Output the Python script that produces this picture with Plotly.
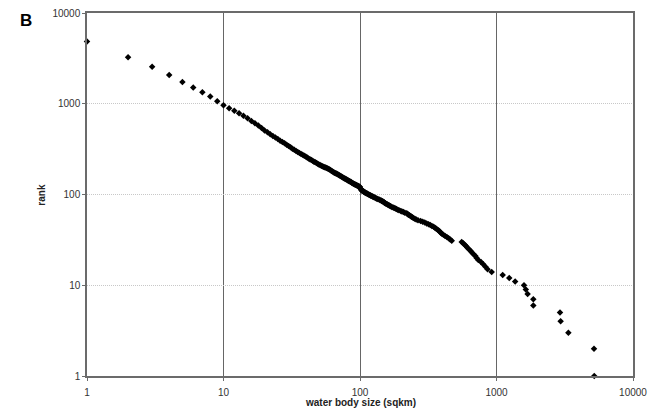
import plotly.graph_objects as go

# Rank-size data for water bodies: area in sqkm and rank (number of bodies at least that size)
small_sizes = [1, 2, 3, 4, 5, 6, 7, 8, 9]
small_ranks = [4850, 3250, 2550, 2070, 1740, 1515, 1340, 1200, 1065]

mid_sizes = list(range(10, 101))
mid_ranks = [960, 891, 839, 785, 739, 691, 645, 610, 575, 540,
             507, 485, 462, 442, 424, 408, 392, 380, 366, 354,
             342, 331, 320, 311, 302, 294, 287, 280, 274, 268,
             262, 256, 250, 245, 240, 235, 230, 226, 222, 218,
             214, 211, 208, 205, 202, 200, 198, 196, 194, 191,
             188, 185, 182, 179, 176, 174, 172, 170, 168, 166,
             164, 162, 160, 158, 156, 154, 152, 150, 149, 147,
             146, 144, 143, 141, 140, 138, 137, 135, 134, 132,
             131, 130, 129, 128, 127, 126, 125, 124, 123, 122, 121]

large_ranks = [1, 2, 3, 4, 5, 6, 7, 8, 9, 10,
               11, 12, 13, 14, 15, 16, 17, 18, 19, 20,
               21, 22, 23, 24, 25, 26, 27, 28, 29, 30,
               31, 32, 33, 34, 35, 36, 37, 38, 39, 40,
               41, 42, 43, 44, 45, 46, 47, 48, 49, 50,
               51, 52, 53, 54, 55, 56, 57, 58, 59, 60,
               61, 62, 63, 64, 65, 66, 67, 68, 69, 70,
               71, 72, 73, 74, 75, 76, 77, 78, 79, 80,
               81, 82, 83, 84, 85, 86, 87, 88, 89, 90,
               91, 92, 93, 94, 95, 96, 97, 98, 99, 100,
               101, 102, 103, 104, 105, 106, 107, 108, 109, 110,
               111, 113, 116]
large_sizes = [5200, 5180, 3360, 2950, 2920, 1860, 1860, 1690, 1640, 1590,
               1370, 1240, 1110, 922, 860, 830, 800, 770, 736, 715,
               700, 680, 660, 645, 628, 610, 598, 585, 570, 556,
               470, 458, 446, 433, 420, 408, 398, 390, 384, 377,
               370, 362, 354, 346, 336, 327, 318, 308, 298, 288,
               278, 266, 258, 252, 246, 242, 238, 235, 230, 226,
               223, 220, 213, 208, 203, 199, 193, 189, 185, 182,
               178, 175, 171, 168, 165, 163, 160, 158, 155, 153,
               151, 150, 148, 146, 144, 143, 140, 138, 135, 133,
               131, 129, 127, 125, 124, 122, 120, 119, 117, 116,
               114, 113, 112, 110, 109, 108, 107, 106, 105, 104,
               103, 102, 101]

tick_vals = [1, 10, 100, 1000, 10000]
tick_text = ["1", "10", "100", "1000", "10000"]

sizes = small_sizes + mid_sizes + large_sizes
ranks = small_ranks + mid_ranks + large_ranks

fig = go.Figure()
fig.add_trace(go.Scatter(
    x=sizes, y=ranks, mode="markers",
    marker=dict(symbol="diamond", size=5, color="black"),
    cliponaxis=False, showlegend=False,
))

axis_font = dict(family="Liberation Sans, Arial, sans-serif", size=10, color="#333333")

fig.update_xaxes(
    type="log", range=[0, 4], tickvals=tick_vals, ticktext=tick_text,
    showgrid=True, gridcolor="#666666", gridwidth=1,
    showline=True, linecolor="#6b6b6b", linewidth=1.5, mirror=True,
    ticks="outside", ticklen=3, tickcolor="#6b6b6b", ticklabelstandoff=3,
    tickfont=axis_font, zeroline=False, automargin=False,
)
fig.update_yaxes(
    type="log", range=[0, 4], tickvals=tick_vals, ticktext=tick_text,
    showgrid=True, gridcolor="#c8c8c8", gridwidth=1, griddash="1px,1px",
    showline=True, linecolor="#6b6b6b", linewidth=1.5, mirror=True,
    ticks="outside", ticklen=3, tickcolor="#6b6b6b",
    tickfont=axis_font, zeroline=False, automargin=False,
)

title_font = dict(family="Liberation Sans, Arial, sans-serif", size=10, color="#222222")
fig.update_layout(
    width=657, height=411,
    margin=dict(l=87, r=24, t=13, b=35),
    paper_bgcolor="white", plot_bgcolor="white",
    annotations=[
        dict(text="<b>water body size (sqkm)</b>", xref="paper", yref="paper",
             x=0.5, y=-0.074, xanchor="center", yanchor="middle",
             showarrow=False, font=title_font),
        dict(text="<b>rank</b>", xref="paper", yref="paper",
             x=-0.084, y=0.5, xanchor="center", yanchor="middle",
             textangle=-90, showarrow=False, font=title_font),
        dict(text="<b>B</b>", xref="paper", yref="paper",
             x=-0.111, y=0.978, xanchor="center", yanchor="middle",
             showarrow=False,
             font=dict(family="Liberation Sans, Arial, sans-serif", size=17, color="black")),
    ],
)

fig.write_html("out.html")
